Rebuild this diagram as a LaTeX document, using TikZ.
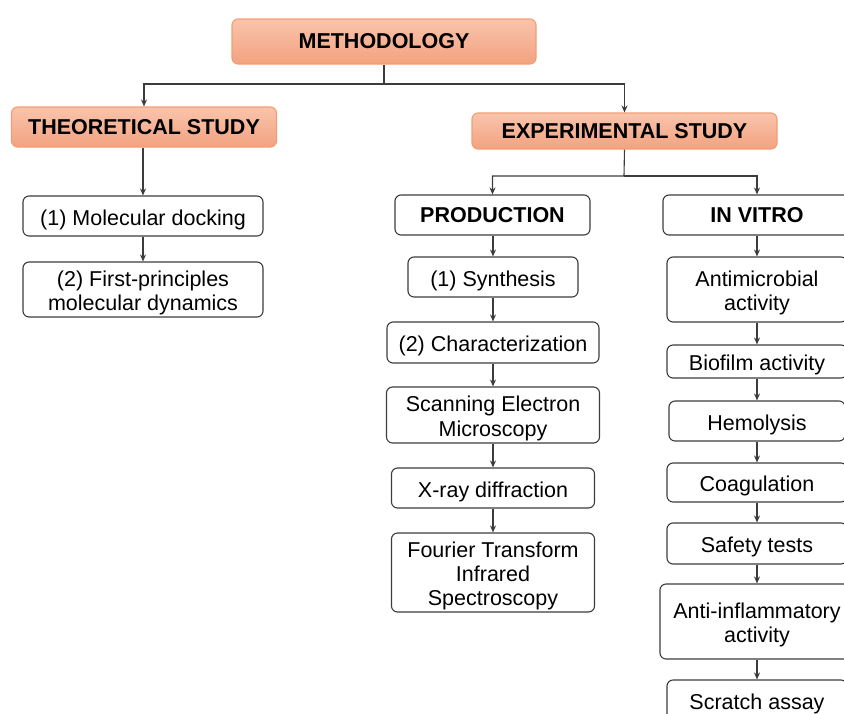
\documentclass[tikz,border=0pt]{standalone}
\usepackage{fontspec}
\setmainfont{Liberation Sans}
\usetikzlibrary{arrows.meta}

\definecolor{peachtop}{RGB}{249,196,172}
\definecolor{peachbottom}{RGB}{243,162,127}
\definecolor{peachline}{RGB}{240,158,118}
\definecolor{boxline}{RGB}{60,60,60}

\begin{document}
\begin{tikzpicture}[x=1pt, y=-1pt,
	box/.style={draw=boxline, line width=1.1pt, rounded corners=6pt, fill=white, align=center, inner sep=0pt, font=\fontsize{21.5}{24.5}\selectfont},
	head/.style={box, draw=peachline, top color=peachtop, bottom color=peachbottom, font=\fontsize{21.5}{24.5}\selectfont\bfseries},
	label/.style={align=center, inner sep=0pt, font=\fontsize{21.5}{24.3}\selectfont},
	link/.style={draw=boxline, line width=1.1pt, -{Stealth[length=7pt, width=6pt]}}]

	\useasboundingbox (0,0) rectangle (844,713);

	% \drawbox#name#x#y#width#height#label
	\def\drawbox#1#2#3#4#5#6{
		\node[box, minimum width=#4pt, minimum height=#5pt] (#1) at (#2, #3) {};
		\node[label] (#1-text) at ([yshift=-3.5pt]#1.center) {#6};
	}

	% headings
	\node[head, minimum width=304pt, minimum height=45pt] (meth) at (384, 41.5) {METHODOLOGY};
	\node[head, minimum width=265pt, minimum height=40pt] (theo) at (144, 127) {THEORETICAL STUDY};
	\node[head, minimum width=305pt, minimum height=36pt] (exp) at (624.5, 131) {EXPERIMENTAL STUDY};

	% theoretical branch
	\drawbox{dock}{143}{216}{240}{40}{(1) Molecular docking}
	\drawbox{fpmd}{143}{289.5}{240}{55}{(2) First-principles\\molecular dynamics}

	% experimental branches
	\node[box, font=\fontsize{21.5}{24.5}\selectfont\bfseries, minimum width=195pt, minimum height=40pt] (prod) at (492.5, 215) {PRODUCTION};
	\node[box, font=\fontsize{21.5}{24.5}\selectfont\bfseries, minimum width=188pt, minimum height=40pt] (vitro) at (757, 215) {IN VITRO};

	% production
	\foreach \name/\y/\w/\h/\txt in {
		syn/277/170/40/{(1) Synthesis},
		char/342.5/212/41/{(2) Characterization},
		sem/415/213/56/{Scanning Electron\\Microscopy},
		xrd/488/203/40/{X-ray diffraction},
		ftir/572.5/203/79/{Fourier Transform\\Infrared\\Spectroscopy}} {
		\drawbox{\name}{493}{\y}{\w}{\h}{\txt}
	}

	% in vitro
	\foreach \name/\y/\w/\h/\txt in {
		amic/289.5/180/65/{Antimicrobial\\activity},
		biof/361.5/180/33/{Biofilm activity},
		hemo/421/176/40/{Hemolysis},
		coag/482.5/180/39/{Coagulation},
		safe/543.5/180/41/{Safety tests},
		ainf/621.5/194/75/{Anti-inflammatory\\activity},
		scra/700/180/40/{Scratch assay}} {
		\drawbox{\name}{757}{\y}{\w}{\h}{\txt}
	}

	% splits
	\coordinate (split1) at (384, 84);
	\coordinate (split2) at (624, 176);
	\draw[link] (meth.south) -- (split1) -| (theo.north);
	\draw[link] (split1) -| (exp.north);
	\draw[link] (exp.south) -- (split2) -| (prod.north);
	\draw[link] (split2) -| (vitro.north);

	% chains
	\foreach \a/\b in {theo/dock, dock/fpmd, prod/syn, syn/char, char/sem, sem/xrd, xrd/ftir,
		vitro/amic, amic/biof, biof/hemo, hemo/coag, coag/safe, safe/ainf, ainf/scra} {
		\draw[link] (\b.north |- \a.south) -- (\b.north);
	}
\end{tikzpicture}
\end{document}
